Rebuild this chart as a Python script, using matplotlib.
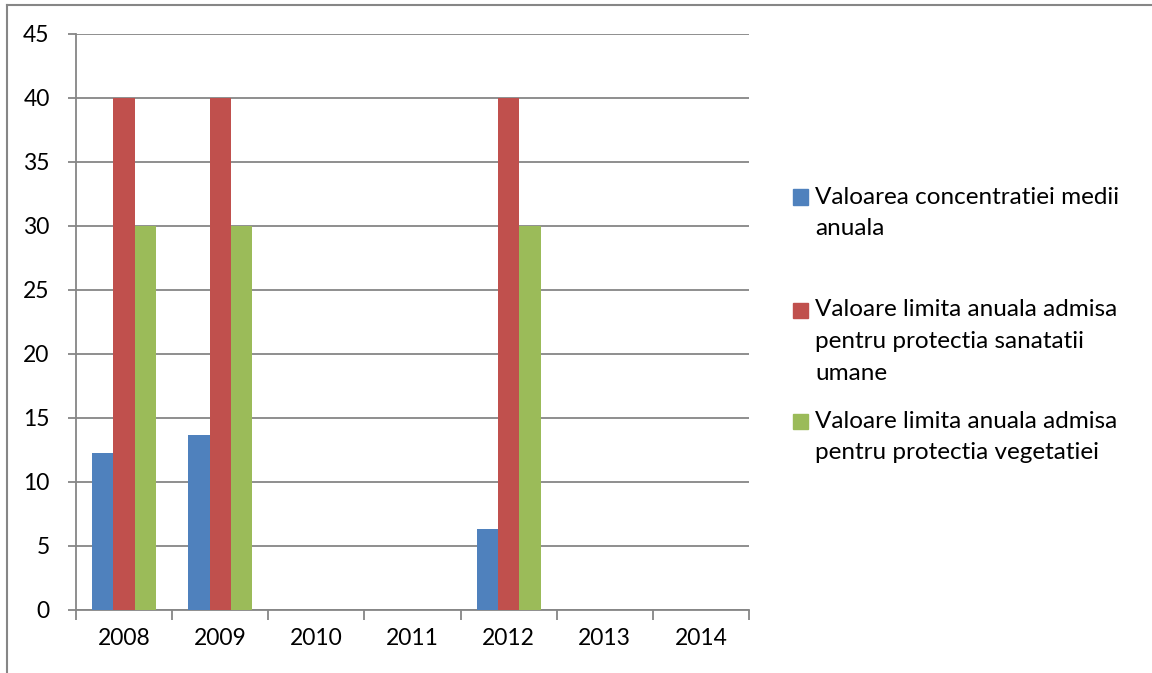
import numpy as np
import matplotlib
matplotlib.use("Agg")
from matplotlib import pyplot as plt
from matplotlib.lines import Line2D
from matplotlib.patches import Rectangle

years = ["2008", "2009", "2010", "2011", "2012", "2013", "2014"]
medie_anuala = [12.3, 13.7, np.nan, np.nan, 6.3, np.nan, np.nan]
limita_sanatate = [40, 40, np.nan, np.nan, 40, np.nan, np.nan]
limita_vegetatie = [30, 30, np.nan, np.nan, 30, np.nan, np.nan]

series_labels = [
    ["Valoarea concentratiei medii", "anuala"],
    ["Valoare limita anuala admisa", "pentru protectia sanatatii", "umane"],
    ["Valoare limita anuala admisa", "pentru protectia vegetatiei"],
]
colors = ["#4F81BD", "#C0504D", "#9BBB59"]
grid_color = "#868686"

plt.rcParams["font.family"] = ["Lato", "DejaVu Sans"]

W, H = 1152, 673
fig = plt.figure(figsize=(W / 100, H / 100), dpi=100)
ax = fig.add_axes([76 / W, (H - 610) / H, (749 - 76) / W, (610 - 34) / H])

x = np.arange(len(years))
bar_w = 0.222
for i, vals in enumerate([medie_anuala, limita_sanatate, limita_vegetatie]):
    ax.bar(x + (i - 1) * bar_w, vals, width=bar_w, color=colors[i], zorder=3)

ax.set_xlim(-0.5, len(years) - 0.5)
ax.set_ylim(0, 45)
ax.set_yticks(np.arange(0, 46, 5))
ax.grid(axis="y", color=grid_color, linewidth=1.3, zorder=0)

# ticks at category boundaries, labels in the middle
ax.set_xticks(np.arange(-0.5, len(years), 1))
ax.set_xticklabels([])
ax.set_xticks(x, minor=True)
ax.set_xticklabels(years, minor=True, fontsize=16.5)
ax.tick_params(axis="x", which="major", length=7, width=1.3, color=grid_color)
ax.tick_params(axis="x", which="minor", length=0, pad=13)
ax.tick_params(axis="y", length=6, width=1.3, color=grid_color, labelsize=16.5, pad=13)

for side in ["top", "right"]:
    ax.spines[side].set_visible(False)
for side in ["left", "bottom"]:
    ax.spines[side].set_color(grid_color)
    ax.spines[side].set_linewidth(1.3)

# legend drawn by hand so the squares sit on the first line of each entry
first_line_y = [197, 310, 421]
line_step = 31.5
for color, lines, y0 in zip(colors, series_labels, first_line_y):
    fig.patches.append(Rectangle((793 / W, 1 - (y0 + 7.5) / H), 15 / W, 15 / H,
                                 transform=fig.transFigure, color=color))
    for k, line in enumerate(lines):
        fig.text(815 / W, 1 - (y0 + k * line_step) / H, line, fontsize=17.5,
                 va="center", ha="left")

# outer frame edges visible in the crop
fig.add_artist(Line2D([7 / W, 7 / W], [0, 1 - 5 / H], color=grid_color, linewidth=1.5))
fig.add_artist(Line2D([7 / W, 1], [1 - 5 / H, 1 - 5 / H], color=grid_color, linewidth=1.5))

fig.savefig("out.png", dpi=100)
